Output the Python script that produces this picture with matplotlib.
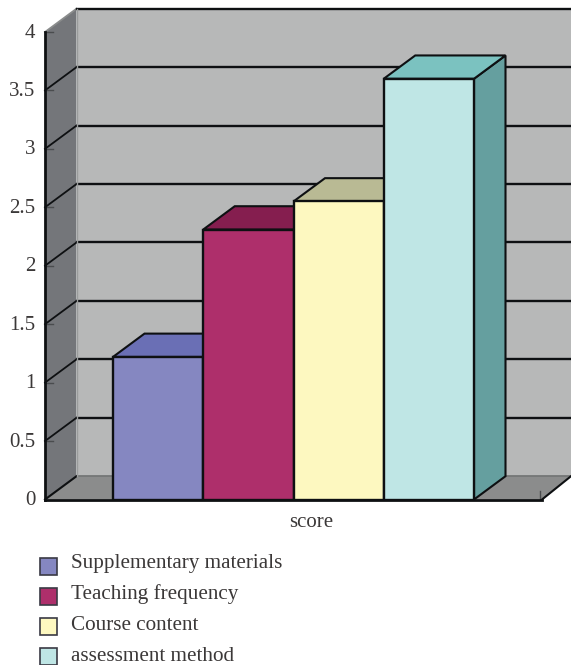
import matplotlib
matplotlib.use("Agg")
import matplotlib.pyplot as plt
from matplotlib.patches import Patch, Rectangle
from matplotlib.legend_handler import HandlerPatch
from matplotlib.transforms import ScaledTranslation

plt.rcParams['font.family'] = ['Liberation Serif', 'DejaVu Serif']

categories = ["Supplementary materials", "Teaching frequency", "Course content", "assessment method"]
values = [1.22, 2.31, 2.55, 3.60]
front_colors = ["#8587c1", "#ae2f6b", "#fdf8c0", "#bfe6e5"]
top_colors = ["#6a6fb5", "#851e4f", "#b9ba94", "#7bc2c0"]
side_colors = ["#5a5e9c", "#7a1c49", "#a9aa86", "#659f9f"]
y_ticks = [0, 0.5, 1, 1.5, 2, 2.5, 3, 3.5, 4]
y_labels = ["0", "0.5", "1", "1.5", "2", "2.5", "3", "3.5", "4"]
group_label = "score"

W, H = 571, 665
LINE = "#0e1012"
TEXT = "#3b3838"

handles = [Patch(facecolor=c, edgecolor="#3a3a44", lw=1.2) for c in front_colors]


def low_box(legend, orig_handle, xdescent, ydescent, width, height, fontsize):
    # swatches sit below the text baseline and drift up a little per row
    row = handles.index(orig_handle)
    lift = (1.5 + row * 1.2) * 0.72
    return Rectangle((-xdescent, -0.40 * fontsize + lift), width, 0.805 * fontsize)


fig = plt.figure(figsize=(W / 100, H / 100), dpi=100)
ax = fig.add_axes([45 / W, 1 - 499.5 / H, 497 / W, 467.5 / H])
ax.set_facecolor("none")

# x unit is one bar width, bars start at 0
bar_px = 90.25
ax.set_xlim(-68 / bar_px, 429 / bar_px)
ax.set_ylim(0, 4)
x0, x1 = ax.get_xlim()
dx = 31.5 / bar_px
dy = 23.3 / (467.5 / 4)
right = x0 + 526 / bar_px

# walls and floor
ax.fill([x0 + dx, right, right, x0 + dx], [dy, dy, 4 + dy, 4 + dy], color="#b7b8b8", lw=0, clip_on=False, zorder=1)
ax.fill([x0, x0 + dx, x0 + dx, x0], [0, dy, 4 + dy, 4], color="#74767a", lw=0, clip_on=False, zorder=1)
ax.fill([x0, x0 + dx, right, x1], [0, dy, dy, 0], color="#8b8c8c", lw=0, clip_on=False, zorder=1)

# grid lines run along both walls
for v in y_ticks:
    if v == 0:
        ax.plot([x0 + dx, right], [dy, dy], color="#6e7070", lw=1.2, clip_on=False, zorder=2)
        ax.plot([x0, x0 + dx], [0, dy], color=LINE, lw=1.5, clip_on=False, zorder=2)
        ax.plot([x1, right], [0, dy], color=LINE, lw=1.5, clip_on=False, zorder=2)
        continue
    edge = "#8a8c8c" if v == 4 else LINE
    ax.plot([x0, x0 + dx], [v, v + dy], color=edge, lw=1.3, clip_on=False, zorder=2)
    ax.plot([x0 + dx, right], [v + dy, v + dy], color=LINE, lw=1.7, clip_on=False, zorder=2)
    ax.plot([x0, x0 + 8 / bar_px], [v, v], color="#4a4c4e", lw=1, clip_on=False, zorder=2)
ax.plot([x0 + dx, x0 + dx], [dy, 4 + dy], color="#9a9c9c", lw=1, clip_on=False, zorder=2)
ax.plot([x1 - 2 / bar_px, x1 - 2 / bar_px], [0, 0.07], color="#4a4c4e", lw=1, zorder=2)

# bars, left to right so each one covers the side of the previous
for i, v in enumerate(values):
    ax.fill([i + 1, i + 1 + dx, i + 1 + dx, i + 1], [0, dy, v + dy, v], facecolor=side_colors[i],
            edgecolor=LINE, lw=1.5, clip_on=False, zorder=3 + i)
    ax.fill([i, i + dx, i + 1 + dx, i + 1], [v, v + dy, v + dy, v], facecolor=top_colors[i],
            edgecolor=LINE, lw=1.5, clip_on=False, zorder=3 + i)
    ax.bar(i + 0.5, v, width=1, color=front_colors[i], edgecolor=LINE, lw=1.7, zorder=3 + i)

for s in ["top", "right"]:
    ax.spines[s].set_visible(False)
for s in ["left", "bottom"]:
    ax.spines[s].set_color(LINE)
    ax.spines[s].set_linewidth(2)
    ax.spines[s].set_zorder(10)

ax.set_yticks(y_ticks)
ax.set_yticklabels(y_labels, fontsize=15, color=TEXT)
ax.tick_params(axis="y", length=0, pad=7)
nudge = ScaledTranslation(0, 1.5 / 100, fig.dpi_scale_trans)
for t in ax.get_yticklabels():
    t.set_transform(t.get_transform() + nudge)
ax.set_xticks([2.2])
ax.set_xticklabels([group_label], fontsize=15, color=TEXT)
ax.tick_params(axis="x", length=0, pad=10)

fig.legend(handles, categories, loc="upper left", bbox_to_anchor=(40 / W, 1 - 550 / H),
           bbox_transform=fig.transFigure, frameon=False, fontsize=15.2, labelcolor=TEXT,
           borderpad=0, borderaxespad=0, handlelength=0.8, handleheight=1.2,
           handletextpad=0.66, labelspacing=0.39,
           handler_map={Patch: HandlerPatch(patch_func=low_box)})

fig.savefig("out.png", dpi=100)
